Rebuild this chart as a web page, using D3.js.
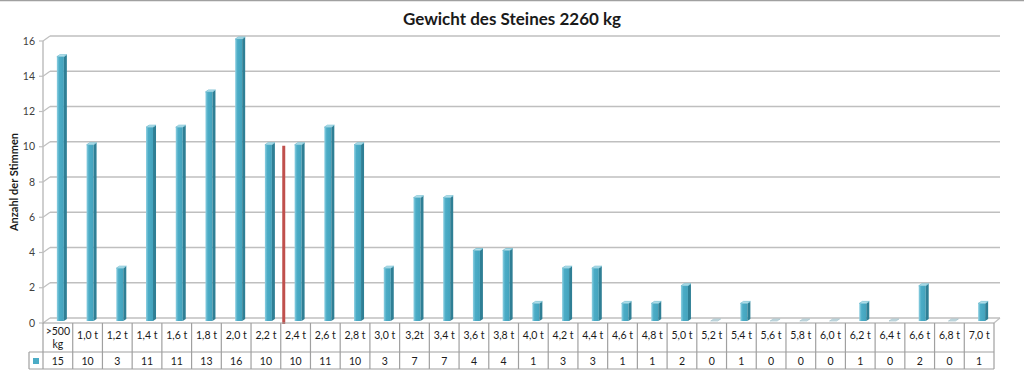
<!DOCTYPE html>
<html>
<head>
<meta charset="utf-8">
<script src="https://cdn.jsdelivr.net/npm/d3@7"></script>
<style>
  body { margin: 0; background: #fff; }
  svg { display: block; font-family: Lato, "Open Sans", sans-serif; }
</style>
</head>
<body>
<svg id="chart"></svg>
<script>
// --- data ---
const categories = [">500 kg", "1,0 t", "1,2 t", "1,4 t", "1,6 t", "1,8 t", "2,0 t", "2,2 t",
  "2,4 t", "2,6 t", "2,8 t", "3,0 t", "3,2t", "3,4 t", "3,6 t", "3,8 t", "4,0 t", "4,2 t",
  "4,4 t", "4,6 t", "4,8 t", "5,0 t", "5,2 t", "5,4 t", "5,6 t", "5,8 t", "6,0 t", "6,2 t",
  "6,4 t", "6,6 t", "6,8 t", "7,0 t"];
const votes = [15, 10, 3, 11, 11, 13, 16, 10, 10, 11, 10, 3, 7, 7, 4, 4, 1, 3, 3, 1, 1, 2,
  0, 1, 0, 0, 0, 1, 0, 2, 0, 1];
const yTicks = [0, 2, 4, 6, 8, 10, 12, 14, 16];
// red marker for the real weight (2260 kg), placed between 2,2 t and 2,4 t
const markerBefore = "2,4 t";
const markerValue = 10;

const title = "Gewicht des Steines 2260 kg";
const yTitle = "Anzahl der Stimmen";

// --- setup ---
const width = 1024, height = 391;
const depthX = 7, depthY = -5;   // back wall offset of the 3D look
const gridColor = "#bfbfbf";
const tableColor = "#a0a0a0";
const barColor = "#4bacc6";

const svg = d3.select("#chart").attr("width", width).attr("height", height);

const x = d3.scaleBand().domain(categories).range([43, 994]).padding(0);
const y = d3.scaleLinear().domain([0, 16]).range([323, 41]);

// chart border (top edge visible)
svg.append("line")
  .attr("x1", 0).attr("x2", width).attr("y1", 0.5).attr("y2", 0.5)
  .attr("stroke", "#a0a0a0").attr("stroke-width", 1.5);

// title
svg.append("text")
  .attr("x", 512).attr("y", 25)
  .attr("text-anchor", "middle")
  .attr("font-size", 17).attr("font-weight", "bold").attr("fill", "#1a1a1a")
  .text(title);

// --- walls and gridlines ---
const grid = svg.append("g");
yTicks.forEach(v => {
  grid.append("line")
    .attr("x1", x.range()[0] + depthX).attr("x2", x.range()[1] + depthX - 1)
    .attr("y1", y(v) + depthY).attr("y2", y(v) + depthY)
    .attr("stroke", gridColor).attr("stroke-width", 1.5);
  grid.append("line")
    .attr("x1", x.range()[0]).attr("x2", x.range()[0] + depthX)
    .attr("y1", y(v)).attr("y2", y(v) + depthY)
    .attr("stroke", gridColor).attr("stroke-width", 1.2);
  grid.append("line")
    .attr("x1", x.range()[0] - 4).attr("x2", x.range()[0])
    .attr("y1", y(v)).attr("y2", y(v))
    .attr("stroke", gridColor).attr("stroke-width", 1.2);
  grid.append("text")
    .attr("x", 35).attr("y", y(v) + 3.5)
    .attr("text-anchor", "end")
    .attr("font-size", 10.5).attr("fill", "#404040")
    .text(v);
});
// vertical axis line
grid.append("line")
  .attr("x1", x.range()[0]).attr("x2", x.range()[0])
  .attr("y1", y(16)).attr("y2", y(0))
  .attr("stroke", gridColor).attr("stroke-width", 1.5);
// floor right edge
grid.append("line")
  .attr("x1", x.range()[1]).attr("x2", x.range()[1] + depthX - 1)
  .attr("y1", y(0)).attr("y2", y(0) + depthY)
  .attr("stroke", gridColor).attr("stroke-width", 1.2);

// y axis title
svg.append("text")
  .attr("transform", "translate(18," + 182 + ") rotate(-90)")
  .attr("text-anchor", "middle")
  .attr("font-size", 11).attr("font-weight", "bold").attr("fill", "#1a1a1a")
  .text(yTitle);

// --- bars ---
const defs = svg.append("defs");
const grad = defs.append("linearGradient").attr("id", "face")
  .attr("x1", 0).attr("x2", 1).attr("y1", 0).attr("y2", 0);
grad.append("stop").attr("offset", "0%").attr("stop-color", "#8fd0e2");
grad.append("stop").attr("offset", "35%").attr("stop-color", barColor);
grad.append("stop").attr("offset", "100%").attr("stop-color", "#44a3bd");

const faceW = 7, sideW = 3, sideH = 2;
const bars = svg.append("g").selectAll("g").data(votes).enter().append("g");

bars.each(function(v, i) {
  const g = d3.select(this);
  const cx = x(categories[i]) + x.bandwidth() / 2 + 2.5;
  const left = cx - faceW / 2, right = cx + faceW / 2;
  const base = y(0) - 2, top = y(v) - 2;
  if (v > 0) {
    g.append("rect")
      .attr("x", left).attr("y", top).attr("width", faceW).attr("height", base - top)
      .attr("fill", "url(#face)");
    g.append("polygon")
      .attr("points", [[right, top], [right + sideW, top - sideH], [right + sideW, base - sideH], [right, base]].join(" "))
      .attr("fill", "#2f7f95");
  }
  g.append("polygon")
    .attr("points", [[left, top], [left + sideW, top - sideH], [right + sideW, top - sideH], [right, top]].join(" "))
    .attr("fill", v > 0 ? "#b5e1ec" : "#c9dde3")
    .attr("stroke", v > 0 ? "#5fb3c9" : "#9bbcc6").attr("stroke-width", 0.6);
});

// red marker line
svg.append("line")
  .attr("x1", x(markerBefore) + 3).attr("x2", x(markerBefore) + 3)
  .attr("y1", y(markerValue) - 1).attr("y2", y(0) + 1)
  .attr("stroke", "#c0504d").attr("stroke-width", 3);

// --- data table ---
const tTop = y(0), tMid = 352, tBot = 369, keyLeft = 29;
const table = svg.append("g");
table.append("line")
  .attr("x1", x.range()[0]).attr("x2", x.range()[1])
  .attr("y1", tTop).attr("y2", tTop)
  .attr("stroke", tableColor).attr("stroke-width", 1.2);
[tMid, tBot].forEach(yy => {
  table.append("line")
    .attr("x1", keyLeft).attr("x2", x.range()[1])
    .attr("y1", yy).attr("y2", yy)
    .attr("stroke", tableColor).attr("stroke-width", 1.2);
});
categories.concat([null]).forEach((c, i) => {
  const xx = c === null ? x.range()[1] : x(c);
  table.append("line")
    .attr("x1", xx).attr("x2", xx).attr("y1", tTop).attr("y2", tBot)
    .attr("stroke", tableColor).attr("stroke-width", 1.2);
});
table.append("line")
  .attr("x1", keyLeft).attr("x2", keyLeft).attr("y1", tMid).attr("y2", tBot)
  .attr("stroke", tableColor).attr("stroke-width", 1.2);
table.append("rect")
  .attr("x", 33).attr("y", 358).attr("width", 6).attr("height", 6)
  .attr("fill", barColor);

categories.forEach((c, i) => {
  const cx = x(c) + x.bandwidth() / 2;
  const t = table.append("text")
    .attr("x", cx).attr("y", 339)
    .attr("text-anchor", "middle")
    .attr("font-size", 10.5).attr("fill", "#1a1a1a")
    .text(c);
  if (t.node().getComputedTextLength() > x.bandwidth() - 2) {
    const words = c.split(" ");
    t.text(null).attr("y", 335);
    words.forEach((w, k) => {
      t.append("tspan").attr("x", cx).attr("dy", k === 0 ? 0 : 13).text(w);
    });
  }
  table.append("text")
    .attr("x", cx).attr("y", 364.5)
    .attr("text-anchor", "middle")
    .attr("font-size", 10.5).attr("fill", "#1a1a1a")
    .text(votes[i]);
});
</script>
</body>
</html>
